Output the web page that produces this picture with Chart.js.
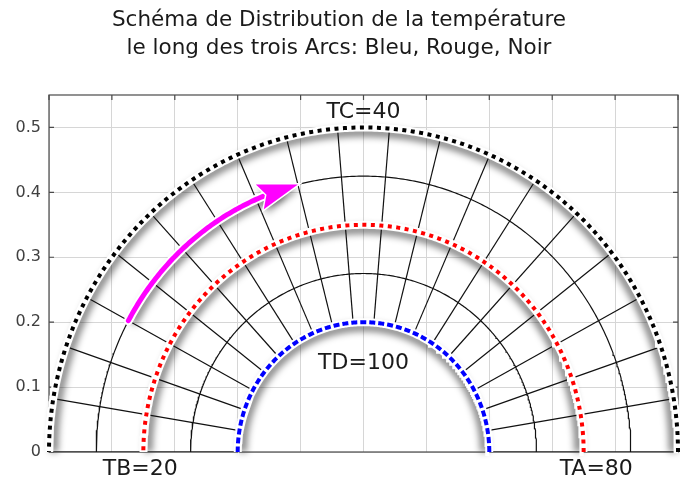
<!DOCTYPE html>
<html>
<head>
<meta charset="utf-8">
<script src="https://cdn.jsdelivr.net/npm/chart.js@4.4.1/dist/chart.umd.min.js"></script>
<style>
  html, body { margin: 0; padding: 0; background: #fff; }
  #wrap { width: 680px; height: 483px; }
</style>
</head>
<body>
<div id="wrap"><canvas id="arcs"></canvas></div>
<script>
// the three temperature arcs (blue, red, black)
const arcRadii = [0.2, 0.35, 0.5];
const arcColors = ['#0000ff', '#ff0000', '#000000'];

// mesh between the inner and the outer arc
const meshRadii = [0.2, 0.275, 0.35, 0.425, 0.5];
const meshSectors = 19;

// magenta arrow running on the 4th ring, sector 16 -> sector 11
const arrowRadius = 0.425;
const arrowFrom = 16;
const arrowTo = 11;

// boundary temperatures and where they are written (data units)
const tempLabels = ['TC=40', 'TD=100', 'TB=20', 'TA=80'];
const tempX = [0, 0, -0.355, 0.37];
const tempY = [0.523, 0.137, -0.026, -0.026];

const yTicks = [0, 0.1, 0.2, 0.3, 0.4, 0.5];

const FONT = '"DejaVu Sans", Verdana, sans-serif';
const sectorDeg = 180 / meshSectors;

function pt(r, deg) {
  const a = deg * Math.PI / 180;
  return { x: r * Math.cos(a), y: r * Math.sin(a) };
}

function arcPoints(r, a0, a1) {
  const n = Math.max(2, Math.round(Math.abs(a1 - a0) * 2));
  const pts = [];
  for (let i = 0; i <= n; i++) {
    pts.push(pt(r, a0 + (a1 - a0) * i / n));
  }
  return pts;
}

function lineSet(data, color, width, order, extra) {
  return Object.assign({
    data: data,
    showLine: true,
    borderColor: color,
    borderWidth: width,
    pointRadius: 0,
    pointHoverRadius: 0,
    tension: 0,
    fill: false,
    order: order
  }, extra || {});
}

let datasets = [];

// mesh: rings + radial lines
meshRadii.forEach(function (r) {
  datasets.push(lineSet(arcPoints(r, 0, 180), '#111', 1.2, 10));
});
for (let k = 0; k <= meshSectors; k++) {
  datasets.push(lineSet([pt(meshRadii[0], k * sectorDeg), pt(meshRadii[meshRadii.length - 1], k * sectorDeg)], '#111', 1.2, 10));
}

// dotted arcs: white band under the coloured dashes
arcRadii.forEach(function (r, i) {
  datasets.push(lineSet(arcPoints(r, 0, 180), '#ffffff', 8, 6, { glow: true, clip: false }));
  datasets.push(lineSet(arcPoints(r, 0, 180), arcColors[i], 4, 5, {
    borderDash: i === 0 ? [6, 3] : [4, 4.5],
    clip: false
  }));
});

// arrow shaft (stops a bit before the tip, the head covers the rest)
const shaft = arcPoints(arrowRadius, arrowFrom * sectorDeg, arrowTo * sectorDeg + 4);
datasets.push(lineSet(shaft, '#ffffff', 9, 2, { glow: true, borderCapStyle: 'round' }));
datasets.push(lineSet(shaft, '#ff00ff', 5, 1, { borderCapStyle: 'round' }));

function centerPx(chart) {
  return { x: chart.scales.x.getPixelForValue(0), y: chart.scales.y.getPixelForValue(0) };
}

function arrowHead(chart) {
  const sx = chart.scales.x, sy = chart.scales.y;
  const tipD = pt(arrowRadius, arrowTo * sectorDeg);
  const backD = pt(arrowRadius, arrowTo * sectorDeg + 6.5);
  const tip = { x: sx.getPixelForValue(tipD.x), y: sy.getPixelForValue(tipD.y) };
  const back = { x: sx.getPixelForValue(backD.x), y: sy.getPixelForValue(backD.y) };
  let ux = tip.x - back.x, uy = tip.y - back.y;
  const len = Math.hypot(ux, uy);
  ux /= len; uy /= len;
  const L = 40, W = 13, N = 7;
  return [
    tip,
    { x: tip.x - ux * L - uy * W, y: tip.y - uy * L + ux * W },
    { x: tip.x - ux * (L - N), y: tip.y - uy * (L - N) },
    { x: tip.x - ux * L + uy * W, y: tip.y - uy * L - ux * W }
  ];
}

function tracePoly(ctx, pts, close) {
  ctx.beginPath();
  pts.forEach(function (p, i) {
    if (i === 0) ctx.moveTo(p.x, p.y); else ctx.lineTo(p.x, p.y);
  });
  if (close) ctx.closePath();
}

// soft grey shade on the inner side of the arcs and the arrow
function shiftInward(pts, c, d) {
  return pts.map(function (p) {
    const dx = p.x - c.x, dy = p.y - c.y;
    const h = Math.hypot(dx, dy) || 1;
    return { x: p.x - dx / h * d, y: p.y - dy / h * d };
  });
}

const decor = {
  id: 'decor',
  beforeDatasetsDraw: function (chart) {
    const ctx = chart.ctx;
    const c = centerPx(chart);
    const area = chart.chartArea;

    ctx.save();
    ctx.filter = 'blur(3.5px)';
    ctx.strokeStyle = 'rgba(0,0,0,0.5)';
    ctx.lineWidth = 8;
    ctx.lineJoin = 'round';
    chart.data.datasets.forEach(function (ds, i) {
      if (!ds.glow) return;
      const pts = chart.getDatasetMeta(i).data.map(function (e) { return { x: e.x, y: e.y }; });
      tracePoly(ctx, shiftInward(pts, c, 5), false);
      ctx.stroke();
    });
    ctx.fillStyle = 'rgba(0,0,0,0.45)';
    tracePoly(ctx, shiftInward(arrowHead(chart), c, 5), true);
    ctx.fill();
    ctx.restore();

    // frame with inward ticks
    ctx.save();
    ctx.strokeStyle = '#4a4a4a';
    ctx.lineWidth = 1.2;
    ctx.strokeRect(area.left, area.top, area.right - area.left, area.bottom - area.top);
    ctx.beginPath();
    yTicks.forEach(function (v) {
      const y = chart.scales.y.getPixelForValue(v);
      ctx.moveTo(area.left, y); ctx.lineTo(area.left + 5, y);
      ctx.moveTo(area.right, y); ctx.lineTo(area.right - 5, y);
    });
    chart.scales.x.ticks.forEach(function (t) {
      const x = chart.scales.x.getPixelForValue(t.value);
      ctx.moveTo(x, area.top); ctx.lineTo(x, area.top + 5);
    });
    ctx.stroke();
    ctx.restore();
  },
  afterDatasetsDraw: function (chart) {
    const ctx = chart.ctx;
    const head = arrowHead(chart);
    ctx.save();
    tracePoly(ctx, head, true);
    ctx.lineJoin = 'miter';
    ctx.strokeStyle = '#ffffff';
    ctx.lineWidth = 3;
    ctx.stroke();
    ctx.fillStyle = '#ff00ff';
    ctx.fill();

    ctx.font = '22px ' + FONT;
    ctx.fillStyle = '#1a1a1a';
    ctx.textAlign = 'center';
    ctx.textBaseline = 'middle';
    tempLabels.forEach(function (t, i) {
      ctx.fillText(t, chart.scales.x.getPixelForValue(tempX[i]), chart.scales.y.getPixelForValue(tempY[i]));
    });
    ctx.restore();
  }
};

new Chart(document.getElementById('arcs').getContext('2d'), {
  type: 'scatter',
  data: { datasets: datasets },
  options: {
    responsive: true,
    maintainAspectRatio: false,
    animation: false,
    events: [],
    layout: { padding: { left: 0, right: 2, top: 0, bottom: 31 } },
    plugins: {
      legend: { display: false },
      tooltip: { enabled: false },
      title: {
        display: true,
        text: ['Schéma de Distribution de la température', 'le long des trois Arcs: Bleu, Rouge, Noir'],
        color: '#1a1a1a',
        font: { family: FONT, size: 21.5, weight: 'normal', lineHeight: 28 / 21.5 },
        padding: { top: 6, bottom: 33 }
      }
    },
    scales: {
      x: {
        type: 'linear',
        min: -0.5,
        max: 0.5,
        ticks: { display: false, stepSize: 0.1 },
        grid: { color: '#d6d6d6', lineWidth: 1, drawTicks: false },
        border: { display: false },
        afterFit: function (scale) { scale.height = 0; }
      },
      y: {
        type: 'linear',
        min: 0,
        max: 0.55,
        afterBuildTicks: function (scale) {
          scale.ticks = yTicks.map(function (v) { return { value: v }; });
        },
        ticks: {
          color: '#404040',
          padding: 8,
          font: { family: FONT, size: 16 },
          callback: function (v) { return String(Math.round(v * 10) / 10); }
        },
        grid: { color: '#d6d6d6', lineWidth: 1, drawTicks: false },
        border: { display: false },
        afterFit: function (scale) { scale.width = 49; }
      }
    }
  },
  plugins: [decor]
});
</script>
</body>
</html>
